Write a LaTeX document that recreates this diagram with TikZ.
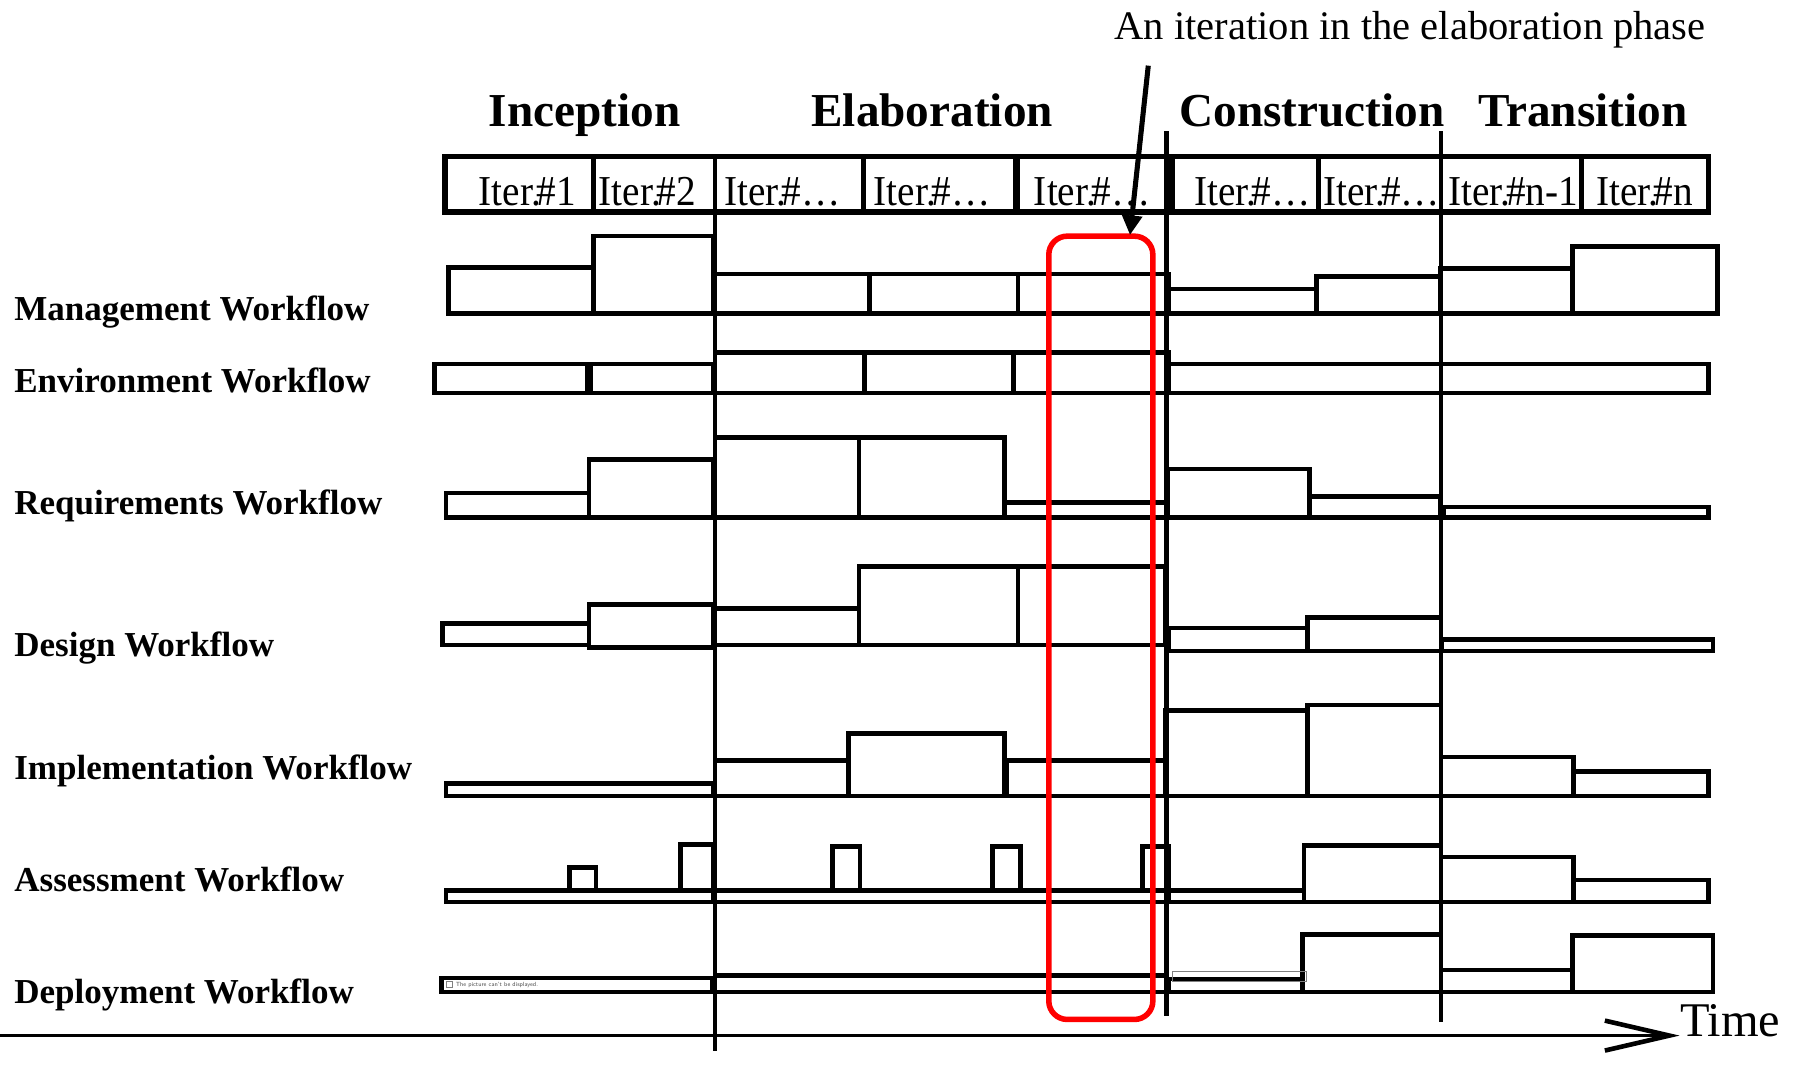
\documentclass[tikz,border=0pt]{standalone}
\usepackage{fontspec}
\setmainfont{Liberation Serif}
\newfontfamily\iterfont[FakeStretch=0.92]{Liberation Serif}
\usetikzlibrary{arrows.meta}
\begin{document}
\begin{tikzpicture}[x=0.49635pt,y=-0.5pt,line join=miter,
    wf/.style={line width=2pt},
    bar/.style={line width=2.4pt},
    phase/.style={font=\bfseries\fontsize{20.5pt}{24pt}\selectfont,anchor=base,inner sep=0pt},
    wflabel/.style={font=\bfseries\fontsize{15.2pt}{18pt}\selectfont,anchor=base west,inner sep=0pt},
    iter/.style={font=\iterfont\fontsize{18.5pt}{20pt}\selectfont,anchor=base,inner sep=0pt}]
    \useasboundingbox (-3.16,0) rectangle (1568.3,927);
    \node[anchor=base,inner sep=0pt,font=\fontsize{17.6pt}{20pt}\selectfont] (note) at (1230,34.7) {An iteration in the elaboration phase};
    \foreach \x/\phname [count=\i] in {508/Inception,812/Elaboration,1144/Construction,1381/Transition} {
        \node[phase] (ph\i) at (\x,110) {\phname};
    }
    \draw[bar] (386,136) rectangle (1491,184);
    \foreach \x in {516,752,1150,1380} {
        \draw[wf] (\x,136) -- (\x,184);
    }
    \draw[line width=3pt] (886,136) -- (886,184) (1021,136) -- (1021,184);
    \foreach \x/\lab [count=\i] in {458/1,563/2,681/\dots,812/\dots,952/\dots,1092/\dots,1205/\dots,1320/n-1,1435/n} {
        \node[iter] (it\i) at (\x,178) {Iter.\kern-.1em\#\lab};
    }
    \foreach \y/\wfname [count=\i] in {278/Management,340.5/Environment,447/Requirements,569.5/Design,677/Implementation,774/Assessment,871/Deployment} {
        \node[wflabel] (wf\i) at (9,\y) {\wfname\ Workflow};
    }
    \foreach \xa/\xb/\yt in {389/516/232,516/621/205,622/757/238,757/887/238,887/1019/238,1019/1148/251,1148/1256/240,1256/1372/233,1372/1499/214} {
        \draw[wf] (\xa,\yt) rectangle (\xb,272);
    }
    \foreach \xa/\xb/\yt in {377/512/316,512/621/316,622/753/306,753/883/306,883/1019/306,1019/1257/316,1257/1491/316} {
        \draw[wf] (\xa,\yt) rectangle (\xb,341);
    }
    \draw[line width=3.5pt] (512,316) -- (512,341);
    \foreach \xa/\xb/\yt in {387/512/428,512/621/399,622/748/380,748/875/380,875/1017/436,1018/1142/407,1142/1256/431,1259/1491/440} {
        \draw[wf] (\xa,\yt) rectangle (\xb,449);
    }
    \foreach \xa/\xb/\yt/\yb in {384/512/541/560,512/621/525/562,622/748/528/560,748/887/492/560,887/1016/492/560,1019/1140/545/565,1140/1257/536/565,1258/1495/555/565} {
        \draw[wf] (\xa,\yt) rectangle (\xb,\yb);
    }
    \foreach \xa/\xb/\yt in {387/621/680,622/739/660,739/875/637,875/1016/660,1016/1140/617,1140/1257/612,1257/1373/657,1373/1491/670} {
        \draw[wf] (\xa,\yt) rectangle (\xb,691);
    }
    \draw[line width=3pt] (876,660) -- (876,691);
    \foreach \xa/\xb/\yt in {387/621/773,622/1019/773,1019/1137/773,1137/1257/734,1257/1373/744,1373/1491/764} {
        \draw[wf] (\xa,\yt) rectangle (\xb,783);
    }
    \foreach \xa/\xb/\yt in {495/518/753,592/621/733,725/749/735,865/889/735,996/1019/735} {
        \draw[wf] (\xa,\yt) rectangle (\xb,773);
    }
    \foreach \xa/\xb/\yt in {383/620/849,622/1017/847,1019/1136/850,1136/1257/811,1257/1372/842,1372/1495/812} {
        \draw[wf] (\xa,\yt) rectangle (\xb,861);
    }
    \draw[gray,line width=0.3pt] (387,852) rectangle (392,857) (1022,843) rectangle (1139,852);
    \node[anchor=west,inner sep=0pt,text=gray!60!black,font=\sffamily\fontsize{2.6pt}{3pt}\selectfont] (nopic) at (395,855) {The picture can't be displayed.};
    \draw[wf] (622,134) -- (622,912);
    \draw[wf] (1017,114) -- (1017,882);
    \draw[wf] (1257,114) -- (1257,887);
    \draw[red,line width=2.4pt,rounded corners=8pt] (914,205) rectangle (1005,885);
    \coordinate (tail) at (1001,57);
    \coordinate (tip) at (985,204);
    \draw[line width=2.2pt,-{Triangle[length=8.5pt,width=8.5pt]}] (tail) -- (tip);
    \node[anchor=base west,inner sep=0pt,font=\fontsize{21pt}{24pt}\selectfont] (time) at (1465.6,900) {Time};
    \coordinate (t0) at (-3.2,899);
    \draw[line width=1.5pt,-{Straight Barb[length=28pt,width=13pt,line width=2pt]}] (t0) -- (t0 -| time.west);
\end{tikzpicture}
\end{document}
